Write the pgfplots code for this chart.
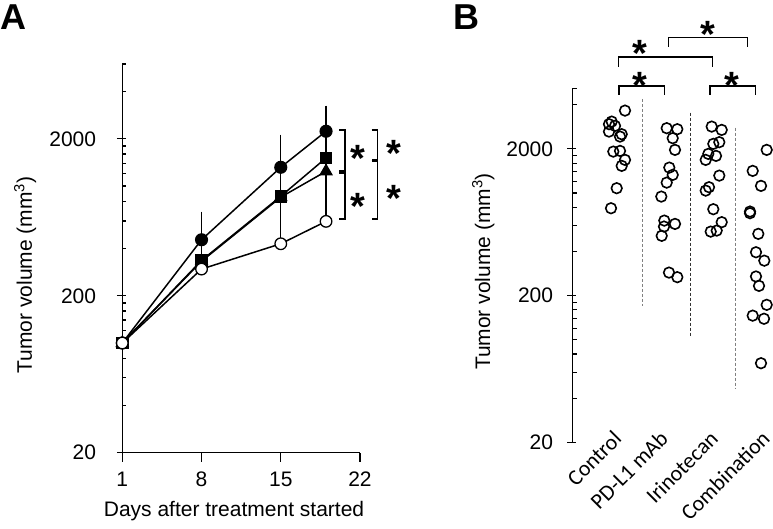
\documentclass[border=0pt]{standalone}
\usepackage{fontspec}
\setmainfont{Liberation Sans}
\newfontfamily\calibri{Carlito}
\usepackage{pgfplots}
\pgfplotsset{compat=1.18}
\newcommand\sig{\fontsize{38}{38}\selectfont\bfseries *}
\newcommand\ylab{\fontsize{21}{25}\selectfont Tumor volume (mm\textsuperscript{3})}
\begin{document}
\begin{tikzpicture}
\useasboundingbox (0pt,0pt) rectangle (773pt,528pt);
\node[anchor=north west, inner sep=0pt, font=\fontsize{36}{36}\selectfont\bfseries] at (0pt,523pt) {A};
\node[anchor=north west, inner sep=0pt, font=\fontsize{36}{36}\selectfont\bfseries] at (453pt,523pt) {B};

% panel A: growth curves
\begin{axis}[at={(122.3pt,75.3pt)}, anchor=south west,
  scale only axis, width=237.7pt, height=388.7pt,
  ymode=log, ymin=20, ymax=6000, xmin=1, xmax=22, clip=false,
  axis lines=left, axis line style={-, line width=1.3pt},
  tick align=outside, major tick length=9pt, minor tick length=4pt,
  tick style={line width=1.2pt, black},
  major tick style={xshift=3.5pt}, minor tick style={xshift=4pt},
  xtick style={xshift=-3.5pt},
  ytick={20,200,2000}, yticklabels={20,200,2000},
  minor ytick={40,60,80,100,120,140,160,180,400,600,800,1000,1200,1400,1600,1800,4000,6000},
  xtick={1,8,15,22}, xticklabels={1,8,15,22},
  ticklabel style={font=\fontsize{21}{25}\selectfont},
  xticklabel style={anchor=north, inner sep=0pt, yshift=-10pt},
  yticklabel style={anchor=east, inner sep=0pt, xshift=-17pt},
  xlabel={Days after treatment started},
  xlabel style={font=\fontsize{21}{25}\selectfont, at={(axis description cs:0.47,-0.149)}, anchor=center},
  ylabel={\ylab},
  ylabel style={at={(axis description cs:-0.409,0.457)}, anchor=center},
]
\addplot[black, line width=1.5pt, mark=*, mark size=5.8pt, mark options={solid, fill=black},
  error bars/.cd, y dir=plus, y explicit, error bar style={line width=1.2pt},
  error mark options={mark size=4pt, line width=1.2pt}] coordinates {
  (1,100) +- (0,0) (8,455) +- (0,193) (15,1318) +- (0,692) (19,2236) +- (0,840)};
\addplot[black, line width=1.5pt, mark=triangle*, mark size=6.5pt, mark options={solid, fill=black},
  error bars/.cd, y dir=plus, y explicit, error bar style={line width=1.2pt},
  error mark options={mark size=4pt, line width=1.2pt}] coordinates {
  (1,100) +- (0,0) (8,332) +- (0,0) (15,850) +- (0,0) (19,1242) +- (0,270)};
\addplot[black, line width=1.5pt, mark=square*, mark size=5.5pt, mark options={solid, fill=black},
  error bars/.cd, y dir=plus, y explicit, error bar style={line width=1.2pt},
  error mark options={mark size=4pt, line width=1.2pt}] coordinates {
  (1,100) +- (0,0) (8,336) +- (0,191) (15,861) +- (0,457) (19,1512) +- (0,720)};
\addplot[black, line width=1.5pt, mark=*, mark size=5.8pt, mark options={solid, fill=white, line width=1.3pt},
  error bars/.cd, y dir=plus, y explicit, error bar style={line width=1.2pt},
  error mark options={mark size=4pt, line width=1.2pt}] coordinates {
  (1,100) +- (0,0) (8,296) +- (0,40) (15,429) +- (0,430) (19,596) +- (0,640)};
\draw[line width=1.4pt] (axis cs:20.17,2282) -- (axis cs:20.67,2282) -- (axis cs:20.67,1250) -- (axis cs:20.17,1250);
\draw[line width=1.4pt] (axis cs:20.17,1209) -- (axis cs:20.67,1209) -- (axis cs:20.67,618) -- (axis cs:20.17,618);
\draw[line width=1.4pt] (axis cs:23.03,2282) -- (axis cs:23.56,2282) -- (axis cs:23.56,1484) -- (axis cs:23.03,1484);
\draw[line width=1.4pt] (axis cs:23.03,1449) -- (axis cs:23.56,1449) -- (axis cs:23.56,618) -- (axis cs:23.03,618);
\node[inner sep=0pt, anchor=base, yshift=-21.9pt] at (axis cs:21.8,1702) {\sig};
\node[inner sep=0pt, anchor=base, yshift=-21.9pt] at (axis cs:21.8,850) {\sig};
\node[inner sep=0pt, anchor=base, yshift=-21.9pt] at (axis cs:25.03,1831) {\sig};
\node[inner sep=0pt, anchor=base, yshift=-21.9pt] at (axis cs:25.03,946) {\sig};
\end{axis}

% panel B: individual tumours
\begin{axis}[at={(572.7pt,85.7pt)}, anchor=south west,
  scale only axis, width=200pt, height=354pt,
  ymode=log, ymin=20, ymax=5176, xmin=0, xmax=20, clip=false,
  axis lines=left, axis line style={-, line width=1.3pt},
  x axis line style={draw=none},
  tick align=outside, major tick length=9pt, minor tick length=4pt,
  tick style={line width=1.2pt, black},
  major tick style={xshift=3.5pt}, minor tick style={xshift=4pt},
  xtick style={draw=none},
  ytick={20,200,2000}, yticklabels={20,200,2000},
  minor ytick={40,60,80,100,120,140,160,180,400,600,800,1000,1200,1400,1600,1800,4000,5176},
  xtick={4.9,9.56,14.56,19.73},
  xticklabels={Control, PD-L1 mAb, Irinotecan, Combination},
  yticklabel style={font=\fontsize{21}{25}\selectfont, anchor=east, inner sep=0pt, xshift=-10.4pt},
  xticklabel style={font=\calibri\fontsize{22}{26}\selectfont, xshift=-9.7pt, yshift=22pt, rotate=45, anchor=north east, inner sep=0pt},
  ylabel={\ylab},
  ylabel style={at={(axis description cs:-0.447,0.4825)}, anchor=center},
]
\draw[gray, dash pattern=on 3pt off 2pt, line width=1pt] (axis cs:7,4384) -- (axis cs:7,170);
\draw[black!80, dash pattern=on 3pt off 2pt, line width=1pt] (axis cs:11.76,3537) -- (axis cs:11.76,105);
\draw[gray, dash pattern=on 3pt off 2pt, line width=1pt] (axis cs:16.3,2794) -- (axis cs:16.3,47);
\addplot[only marks, mark=o, mark size=5.3pt, mark options={line width=1.6pt, black}] coordinates {
  (5.23,3648) (3.90,3070) (3.63,2948) (4.23,2870) (3.63,2624) (4.73,2426) (4.90,2518)
  (4.06,1917) (4.73,1938) (5.23,1683) (4.90,1532) (4.40,1079) (3.83,788)};
\addplot[only marks, mark=o, mark size=5.3pt, mark options={line width=1.6pt, black}] coordinates {
  (9.40,2768) (10.46,2724) (10.00,2366) (10.23,1969) (9.66,1491) (10.00,1330) (9.40,1178)
  (8.86,946) (9.16,649) (10.23,616) (9.13,591) (8.90,511) (9.63,287) (10.46,267)};
\addplot[only marks, mark=o, mark size=5.3pt, mark options={line width=1.6pt, black}] coordinates {
  (13.90,2838) (14.90,2694) (14.66,2222) (14.06,2164) (13.56,1849) (14.33,1792) (13.30,1683)
  (14.66,1315) (13.63,1096) (13.30,1039) (14.06,776) (14.90,633) (13.80,546) (14.40,555)};
\addplot[only marks, mark=o, mark size=5.3pt, mark options={line width=1.6pt, black}] coordinates {
  (19.40,1969) (18.00,1416) (18.83,1119) (17.73,748) (17.73,729) (18.56,527) (18.33,395)
  (19.16,346) (18.33,270) (18.63,233) (19.40,173) (18.00,146) (19.13,139) (18.83,69.2)};
\draw[line width=1.4pt] (axis cs:4.63,4668) -- (axis cs:4.63,5376) -- (axis cs:9.16,5376) -- (axis cs:9.16,4668);
\draw[line width=1.4pt] (axis cs:4.56,7280) -- (axis cs:4.56,8437) -- (axis cs:13.96,8437) -- (axis cs:13.96,7280);
\draw[line width=1.4pt] (axis cs:9.56,9960) -- (axis cs:9.56,11540) -- (axis cs:17.46,11540) -- (axis cs:17.46,9960);
\draw[line width=1.4pt] (axis cs:13.73,4668) -- (axis cs:13.73,5376) -- (axis cs:18.3,5376) -- (axis cs:18.3,4668);
\node[inner sep=0pt, anchor=base, yshift=-21.9pt] at (axis cs:6.73,6220) {\sig};
\node[inner sep=0pt, anchor=base, yshift=-21.9pt] at (axis cs:6.73,10230) {\sig};
\node[inner sep=0pt, anchor=base, yshift=-21.9pt] at (axis cs:13.56,13790) {\sig};
\node[inner sep=0pt, anchor=base, yshift=-21.9pt] at (axis cs:15.9,6220) {\sig};
\end{axis}
\end{tikzpicture}
\end{document}
